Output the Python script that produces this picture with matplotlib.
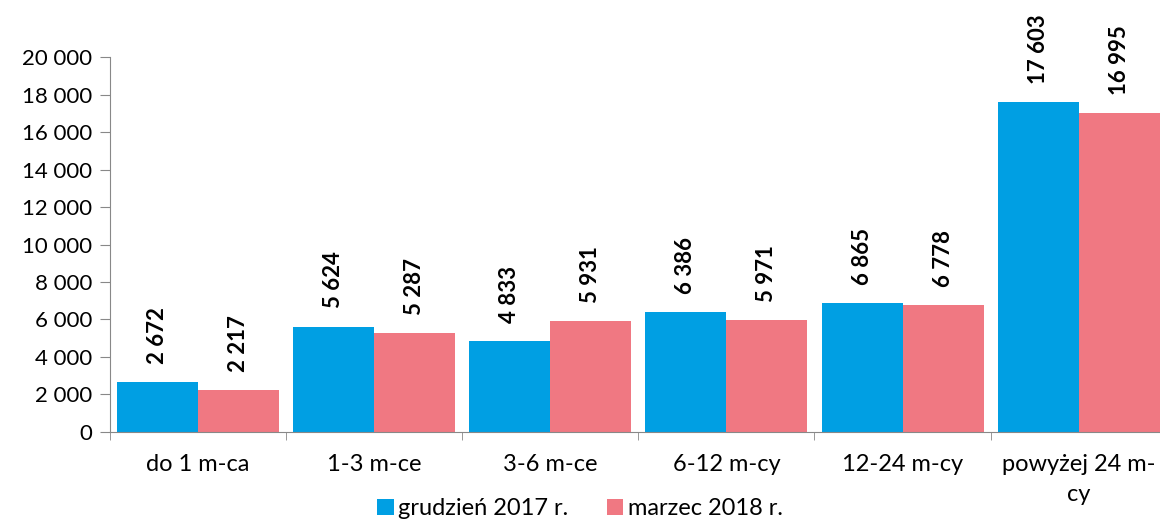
import matplotlib.pyplot as plt
import numpy as np

categories = ['do 1 m-ca', '1-3 m-ce', '3-6 m-ce', '6-12 m-cy', '12-24 m-cy', 'powyżej 24 m-\ncy']
series_names = ['grudzień 2017 r.', 'marzec 2018 r.']
dec_2017 = [2672, 5624, 4833, 6386, 6865, 17603]
mar_2018 = [2217, 5287, 5931, 5971, 6778, 16995]
colors = ['#009FE3', '#F07882']
y_ticks = list(range(0, 20001, 2000))


def fmt(v):
    # separator tysięcy jako spacja
    return f'{v:,}'.replace(',', ' ')


plt.rcParams['font.family'] = ['Lato', 'DejaVu Sans']

fig = plt.figure(figsize=(11.6, 5.29), dpi=100)
ax = fig.add_axes([0.0948, 0.1834, 0.911, 0.7088])

x = np.arange(len(categories))
w = 0.46
for i, (vals, c, name) in enumerate(zip([dec_2017, mar_2018], colors, series_names)):
    pos = x - w / 2 + i * w
    ax.bar(pos, vals, width=w, color=c, label=name)
    for p, v in zip(pos, vals):
        ax.annotate(fmt(v), (p, v), xytext=(0, 13), textcoords='offset points',
                    rotation=90, ha='center', va='bottom', fontsize=16,
                    fontweight='bold', annotation_clip=False)

ax.set_xlim(-0.5, len(categories) - 0.5)
ax.set_ylim(0, 20000)
ax.set_yticks(y_ticks)
ax.set_yticklabels([fmt(t) for t in y_ticks], fontsize=16)

ax.set_xticks(x)
ax.set_xticklabels(categories, fontsize=17, linespacing=1.5)
ax.tick_params(axis='x', length=0, pad=16)
ax.set_xticks(np.arange(len(categories) + 1) - 0.5, minor=True)
ax.tick_params(axis='x', which='minor', length=6, color='#888888')
ax.tick_params(axis='y', length=7, color='#888888', pad=6)

for s in ['top', 'right']:
    ax.spines[s].set_visible(False)
for s in ['left', 'bottom']:
    ax.spines[s].set_color('#888888')

fig.legend(loc='lower center', bbox_to_anchor=(0.5, -0.022), ncol=2, frameon=False,
           fontsize=17, handlelength=0.7, handleheight=0.7, handletextpad=0.2,
           columnspacing=1.6)

fig.savefig('out.png', dpi=100)
